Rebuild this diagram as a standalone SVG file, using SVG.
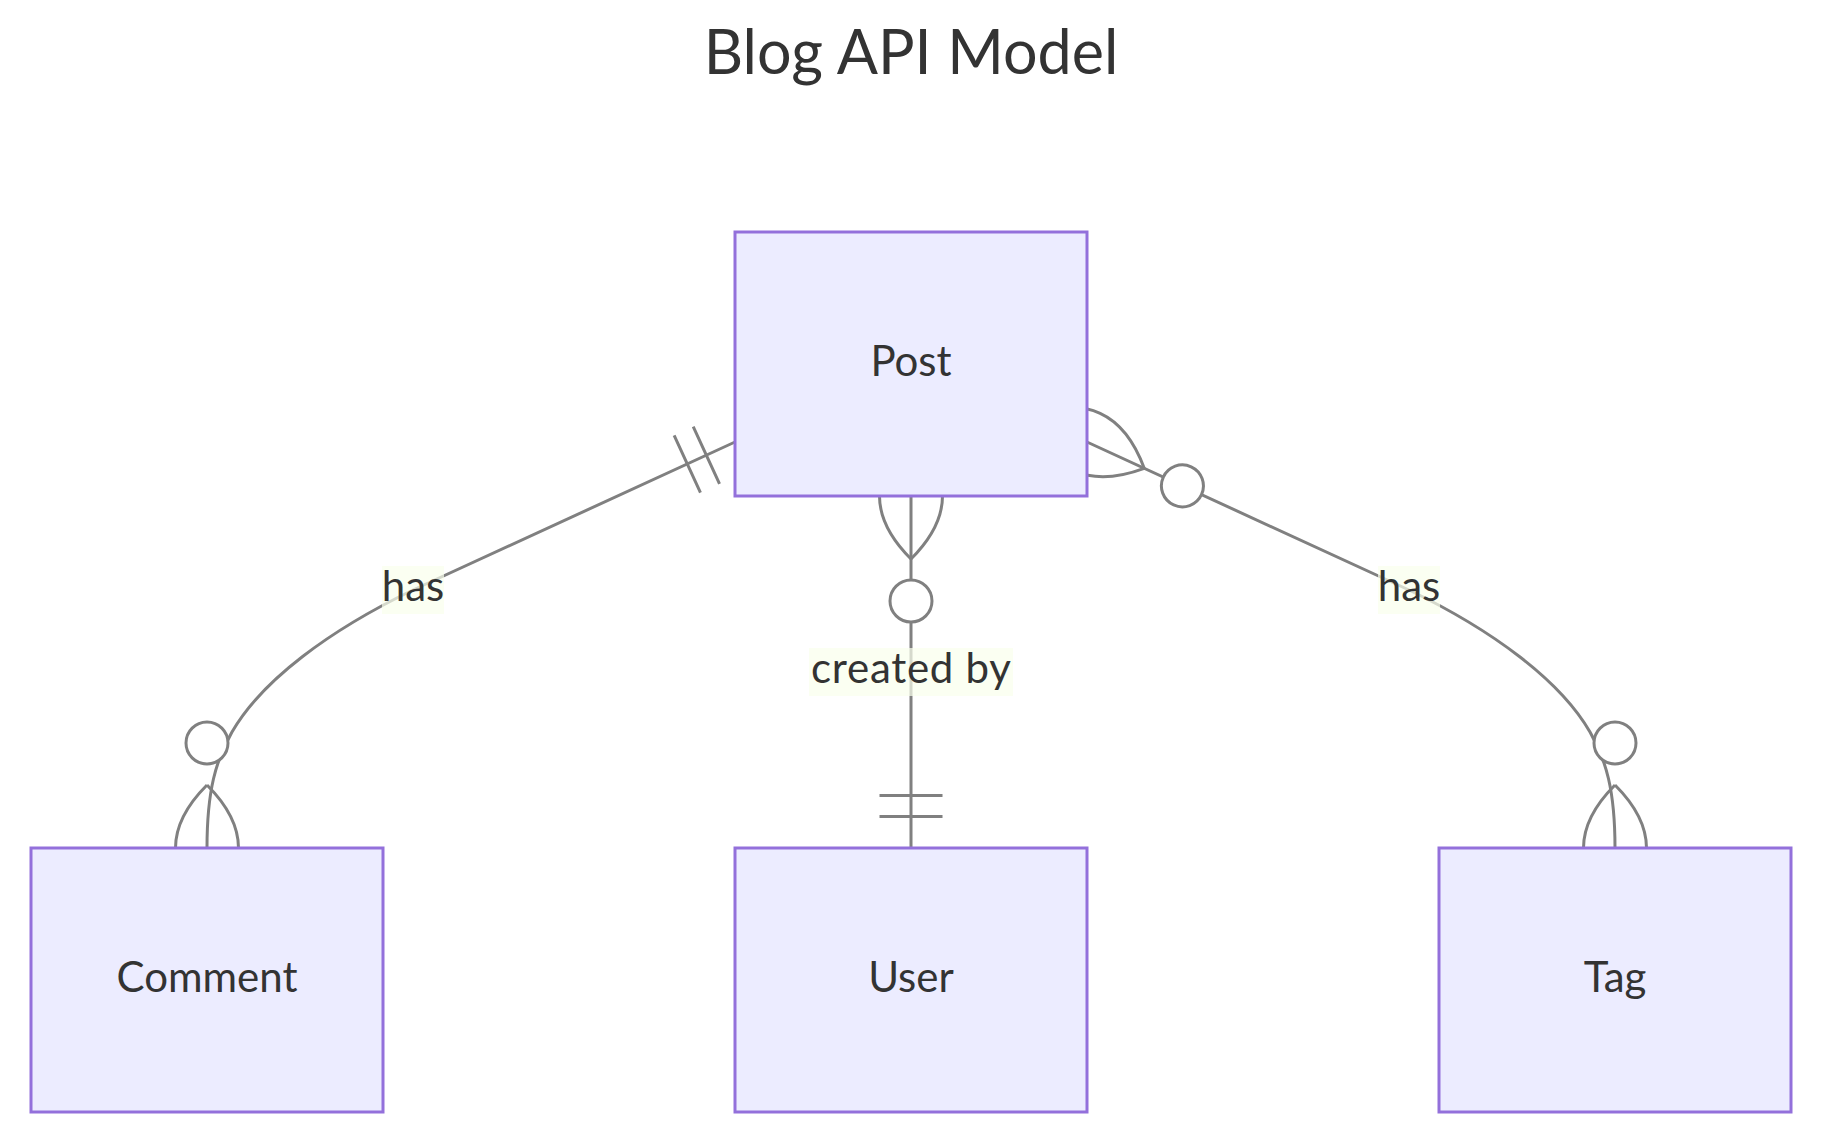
<svg xmlns="http://www.w3.org/2000/svg" width="1824" height="1140" viewBox="0 0 1824 1140">
<style>
  .title { font-family: Lato, "Liberation Sans", sans-serif; font-size: 61px; fill: #333333; text-anchor: middle; }
  .ent rect { fill: #ECECFF; stroke: #9370DB; stroke-width: 3; }
  .ent text { font-family: Lato, "Liberation Sans", sans-serif; font-size: 42px; fill: #333333; text-anchor: middle; }
  .rel { fill: none; stroke: #808080; stroke-width: 3; }
  .lblbox { fill: #f9ffec; opacity: 0.7; }
  .lbl { font-family: Lato, "Liberation Sans", sans-serif; font-size: 42px; fill: #333333; text-anchor: middle; }
  .mk { stroke: #808080; stroke-width: 0.857; fill: none; }
  .mkc { stroke: #808080; stroke-width: 0.857; fill: #ffffff; }
</style>
<defs>
  <marker id="zeroOrMoreStart" viewBox="0 0 57 36" refX="18" refY="18" markerWidth="199.5" markerHeight="126" markerUnits="userSpaceOnUse" orient="auto" overflow="visible">
    <circle class="mkc" cx="48" cy="18" r="6"/>
    <path class="mk" d="M0,18 Q18,0 36,18 Q18,36 0,18"/>
  </marker>
  <marker id="zeroOrMoreEnd" viewBox="0 0 57 36" refX="39" refY="18" markerWidth="199.5" markerHeight="126" markerUnits="userSpaceOnUse" orient="auto" overflow="visible">
    <circle class="mkc" cx="9" cy="18" r="6"/>
    <path class="mk" d="M21,18 Q39,0 57,18 Q39,36 21,18"/>
  </marker>
  <marker id="onlyOneStart" viewBox="0 0 18 18" refX="0" refY="9" markerWidth="63" markerHeight="63" markerUnits="userSpaceOnUse" orient="auto" overflow="visible">
    <path class="mk" d="M9,0 L9,18 M15,0 L15,18"/>
  </marker>
  <marker id="onlyOneEnd" viewBox="0 0 18 18" refX="18" refY="9" markerWidth="63" markerHeight="63" markerUnits="userSpaceOnUse" orient="auto" overflow="visible">
    <path class="mk" d="M3,0 L3,18 M9,0 L9,18"/>
  </marker>
</defs>
<rect x="0" y="0" width="1824" height="1140" fill="#ffffff"/>
<text class="title" x="911" y="74">Blog API Model</text>
<g id="connectors">
  <path id="edge-post-comment" class="rel" d="M735,442 L413,590 C330,630 262,680 232,732 C216,760 207,790 207,848" marker-start="url(#onlyOneStart)" marker-end="url(#zeroOrMoreEnd)"/>
  <path id="edge-post-user" class="rel" d="M911,496 L911,848" marker-start="url(#zeroOrMoreStart)" marker-end="url(#onlyOneEnd)"/>
  <path id="edge-post-tag" class="rel" d="M1087,442 L1409,590 C1492,630 1560,680 1590,732 C1606,760 1615,790 1615,848" marker-start="url(#zeroOrMoreStart)" marker-end="url(#zeroOrMoreEnd)"/>
  <g id="label-post-comment">
    <rect class="lblbox" x="382" y="566" width="62" height="48"/>
    <text class="lbl" x="413" y="601">has</text>
  </g>
  <g id="label-post-user">
    <rect class="lblbox" x="809" y="648" width="204" height="48"/>
    <text class="lbl" x="911" y="683" textLength="200" lengthAdjust="spacing">created by</text>
  </g>
  <g id="label-post-tag">
    <rect class="lblbox" x="1378" y="566" width="62" height="48"/>
    <text class="lbl" x="1409" y="601">has</text>
  </g>
</g>
<g id="node-post" class="ent">
  <rect x="735" y="232" width="352" height="264"/>
  <text x="911" y="376">Post</text>
</g>
<g id="node-comment" class="ent">
  <rect x="31" y="848" width="352" height="264"/>
  <text x="207" y="992">Comment</text>
</g>
<g id="node-user" class="ent">
  <rect x="735" y="848" width="352" height="264"/>
  <text x="911" y="992">User</text>
</g>
<g id="node-tag" class="ent">
  <rect x="1439" y="848" width="352" height="264"/>
  <text x="1615" y="992">Tag</text>
</g>
</svg>
